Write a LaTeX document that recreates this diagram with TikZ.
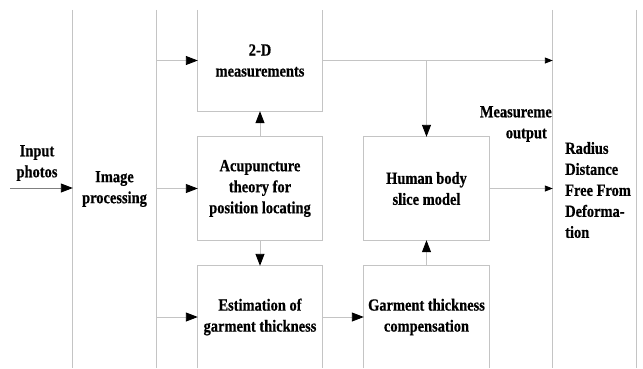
\documentclass[tikz,border=0pt]{standalone}
\usepackage{fontspec}
\setmainfont{Liberation Serif}[FakeStretch=0.85, BoldFeatures={FakeStretch=0.85, FakeBold=0.6}]
\usetikzlibrary{arrows.meta}
\definecolor{linec}{HTML}{C4C4C4}
\begin{document}
\begin{tikzpicture}[x=1pt,y=-1pt,
  lbl/.style={font=\fontsize{17}{21}\selectfont\bfseries, align=center, inner sep=0pt},
  box/.style={lbl, draw=none},
  side/.style={draw=linec, line width=0.9pt},
  arr/.style={draw=linec, line width=0.9pt, -{Triangle[length=12pt,width=9pt,color=black]}},
  sarr/.style={draw=linec, line width=0.9pt, -{Triangle[length=8pt,width=6pt,color=black]}}
]
\useasboundingbox (0,0) rectangle (643,368);
% boxes
\node[box, minimum width=83pt, minimum height=358pt] (ip) at (114.5,189) {Image\\processing};
\node[box, minimum width=124pt, minimum height=101pt] (md) at (260,60.5) {2-D\\measurements};
\node[box, minimum width=124pt, minimum height=103pt] (ac) at (260,188.5) {Acupuncture\\theory for\\position locating};
\node[box, minimum width=124pt, minimum height=102pt] (es) at (260,317) {Estimation of\\garment thickness};
\node[box, minimum width=125pt, minimum height=103pt] (hb) at (426.5,188.5) {Human body\\slice model};
\node[box, minimum width=125pt, minimum height=102pt] (gc) at (426.5,317) {Garment thickness\\compensation};
\node[box, minimum width=83pt, minimum height=358pt] (rd) at (594.5,189) {};
\node[lbl, align=left, anchor=west] (rdt) at (565,190) {Radius\\Distance\\Free From\\Deforma-\\tion};
% box outlines
\draw[side] (ip.north west) -- (ip.south west);
\draw[side] (ip.north east) -- (ip.south east);
\draw[side] (md.north west) -- (md.south west) -- (md.south east) -- (md.north east);
\draw[side] (ac.north west) rectangle (ac.south east);
\draw[side] (hb.north west) rectangle (hb.south east);
\draw[side] (es.south west) -- (es.north west) -- (es.north east) -- (es.south east);
\draw[side] (gc.south west) -- (gc.north west) -- (gc.north east) -- (gc.south east);
\draw[side] (rd.north west) -- (rd.south west);
\draw[side] (rd.north east) -- (rd.south east);
% labels
\node[lbl] (inp) at (37,163) {Input\\photos};
\node[lbl, align=right, anchor=east] (mo) at (552,124) {Measureme\\output\hspace*{5pt}};
% connectors
\coordinate (src) at (10,188);
\draw[arr, draw=gray] (src) -- (src -| ip.west);
\draw[arr] (ip.east |- md.west) -- (md.west);
\draw[arr] (ip.east |- ac.west) -- (ac.west);
\draw[arr] (ip.east |- es.west) -- (es.west);
\draw[sarr] (md.east) -- (md.east -| rd.west);
\draw[arr] (hb.north |- md.east) -- (hb.north);
\draw[arr] (ac.north) -- (md.south);
\draw[arr] (ac.south) -- (es.north);
\draw[arr] (es.east) -- (gc.west);
\draw[arr] (gc.north) -- (hb.south);
\draw[sarr] (hb.east) -- (hb.east -| rd.west);
\end{tikzpicture}
\end{document}
